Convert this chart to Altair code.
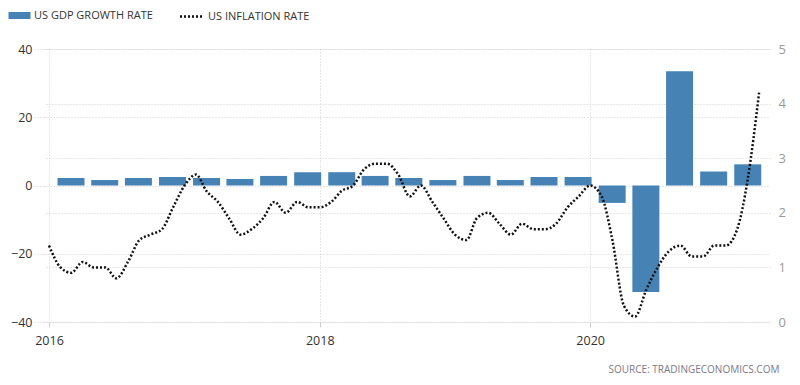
import altair as alt
import pandas as pd

# ---- data ----
quarters = [
    "2016-01-01", "2016-04-01", "2016-07-01", "2016-10-01",
    "2017-01-01", "2017-04-01", "2017-07-01", "2017-10-01",
    "2018-01-01", "2018-04-01", "2018-07-01", "2018-10-01",
    "2019-01-01", "2019-04-01", "2019-07-01", "2019-10-01",
    "2020-01-01", "2020-04-01", "2020-07-01", "2020-10-01",
    "2021-01-01",
]
gdp_growth = [
    2.2, 1.6, 2.2, 2.5,
    2.2, 1.9, 2.8, 3.9,
    3.9, 2.8, 2.2, 1.6,
    2.8, 1.6, 2.5, 2.5,
    -5.1, -31.2, 33.5, 4.1,
    6.2,
]

months = [f"{y}-{m:02d}-01" for y in range(2016, 2022) for m in range(1, 13)][:64]
inflation = [
    1.4, 1.0, 0.9, 1.1, 1.0, 1.0, 0.8, 1.1, 1.5, 1.6, 1.7, 2.1,
    2.5, 2.7, 2.4, 2.2, 1.9, 1.6, 1.7, 1.9, 2.2, 2.0, 2.2, 2.1,
    2.1, 2.2, 2.4, 2.5, 2.8, 2.9, 2.9, 2.7, 2.3, 2.5, 2.2, 1.9,
    1.6, 1.5, 1.9, 2.0, 1.8, 1.6, 1.8, 1.7, 1.7, 1.8, 2.1, 2.3,
    2.5, 2.3, 1.5, 0.3, 0.1, 0.6, 1.0, 1.3, 1.4, 1.2, 1.2, 1.4,
    1.4, 1.7, 2.6, 4.2,
]

gdp_label = "US GDP GROWTH RATE"
cpi_label = "US INFLATION RATE"
year_ticks = ["2016-01-01", "2018-01-01", "2020-01-01"]
left_ticks = [-40, -20, 0, 20, 40]
right_ticks = [0, 1, 2, 3, 4, 5]


def ms(s):
    return int(pd.Timestamp(s, tz="UTC").value // 10**6)


gdp_df = pd.DataFrame({"date": quarters, "gdp": gdp_growth, "series": gdp_label})
cpi_df = pd.DataFrame({"date": months, "cpi": inflation, "series2": cpi_label})

FONT = "Open Sans"
GRID = "#cfcfcf"

xscale = alt.Scale(type="utc", domain=[ms("2016-01-01"), ms("2021-04-17")])
xaxis = alt.Axis(
    values=[ms(d) for d in year_ticks], format="%Y", title=None,
    grid=True, gridDash=[1, 2], gridColor=GRID, domain=False,
    tickSize=5, tickColor=GRID, labelPadding=7,
    labelFont=FONT, labelFontSize=12.5, labelColor="#333",
)

bars = alt.Chart(gdp_df).mark_bar(width=27, xOffset=22).encode(
    x=alt.X("date:T", scale=xscale, axis=xaxis),
    y=alt.Y(
        "gdp:Q",
        scale=alt.Scale(domain=[-40, 40], nice=False, zero=False),
        axis=alt.Axis(
            orient="left", values=left_ticks, title=None,
            grid=True, gridDash=[1, 2], gridColor=GRID, domain=False,
            tickSize=10, tickDash=[1, 2], tickColor=GRID, labelPadding=2,
            labelFont=FONT, labelFontSize=12.5, labelColor="#333",
        ),
    ),
    y2=alt.datum(0),
    color=alt.Color(
        "series:N",
        scale=alt.Scale(domain=[gdp_label], range=["#4682b4"]),
        legend=alt.Legend(
            title=None, orient="none", legendX=-30, legendY=-39,
            direction="horizontal", padding=0,
            symbolType="M-2.2,-0.7H2.2V0.7H-2.2Z", symbolSize=100,
            symbolStrokeWidth=0, symbolOpacity=1, labelOffset=9,
            labelFont=FONT, labelFontSize=11, labelColor="#333", labelLimit=400,
        ),
    ),
)

line = alt.Chart(cpi_df).mark_line(
    color="#111", strokeWidth=2.5, interpolate="monotone"
).encode(
    x=alt.X("date:T", scale=xscale, axis=xaxis),
    y=alt.Y(
        "cpi:Q",
        scale=alt.Scale(domain=[0, 5], nice=False),
        axis=alt.Axis(
            orient="right", values=right_ticks, title=None,
            grid=True, gridDash=[1, 2], gridColor=GRID, domain=False,
            ticks=False, labelPadding=8,
            labelFont=FONT, labelFontSize=13, labelColor="#9a9a9a",
        ),
    ),
    strokeDash=alt.StrokeDash(
        "series2:N",
        scale=alt.Scale(domain=[cpi_label], range=[[2, 2]]),
        legend=alt.Legend(
            title=None, orient="none", legendX=141, legendY=-39,
            direction="horizontal", padding=0,
            symbolType="M-2.3,0H2.3", symbolSize=100, symbolStrokeWidth=2.5,
            symbolStrokeColor="#111", symbolFillColor="transparent",
            labelOffset=10,
            labelFont=FONT, labelFontSize=11, labelColor="#333", labelLimit=400,
        ),
    ),
)

chart = (
    alt.layer(bars, line)
    .resolve_scale(y="independent")
    .properties(
        width=726,
        height=273,
        autosize=alt.AutoSizeParams(type="none"),
        padding={"left": 36, "top": 41, "right": 22, "bottom": 55},
        title=alt.TitleParams(
            "SOURCE: TRADINGECONOMICS.COM", orient="bottom", anchor="end",
            font=FONT, fontSize=10, fontWeight="normal", color="#7d7888",
            offset=18, dx=-6,
        ),
    )
    .configure_view(stroke=None)
)

chart.save("out.html", embed_options={"renderer": "svg", "actions": False})
